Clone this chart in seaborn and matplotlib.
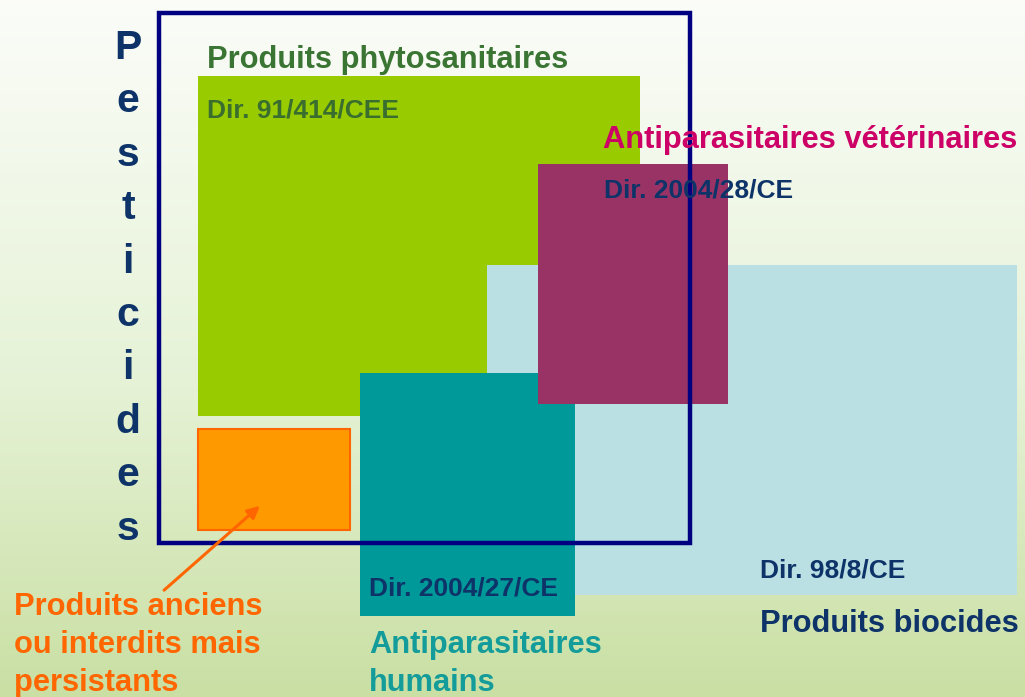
import numpy as np
import pandas as pd
import seaborn as sns
import matplotlib.pyplot as plt
from matplotlib.patches import Rectangle, FancyArrowPatch

# Boxes of the scheme (pixel space of the slide: x0, y0, x1, y1)
box_names = ['phyto', 'biocides', 'humains', 'veterinaires', 'anciens']
box_x0 = [198, 487, 360, 538, 198]
box_y0 = [76, 265, 373, 164, 429]
box_x1 = [640, 1017, 575, 728, 350]
box_y1 = [416, 595, 616, 404, 530]
box_colors = ['#99CC00', '#BBE0E3', '#009999', '#993366', '#FF9900']
box_edges = ['none', 'none', 'none', 'none', '#FF6600']

# Frame "Pesticides"
frame = [159, 13, 690, 543]

# Labels: text, x, y, colour, size
labels = [
    ('Produits phytosanitaires', 207, 60, '#3A7534', 22.2),
    ('Dir. 91/414/CEE', 207, 110, '#3A6E2E', 19),
    ('Antiparasitaires vétérinaires', 603, 140, '#CC0066', 22.2),
    ('Dir. 2004/28/CE', 604, 190, '#0D3368', 19),
    ('Dir. 98/8/CE', 760, 570, '#0D3368', 19),
    ('Produits biocides', 760, 624, '#0D3368', 22.2),
    ('Dir. 2004/27/CE', 369, 589, '#0D3368', 19),
    ('Antiparasitaires', 369, 645, '#139C9A', 22.2),
    ('humains', 369, 683, '#139C9A', 22.2),
    ('Produits anciens', 14, 607, '#FF6600', 22.2),
    ('ou interdits mais', 14, 645, '#FF6600', 22.2),
    ('persistants', 14, 683, '#FF6600', 22.2),
]

side_word = 'Pesticides'
arrow_start = (162, 592)
arrow_end = (262, 504)

W, H = 1025, 697

sns.set_theme(style='white')
plt.rcParams['font.family'] = ['Liberation Sans', 'DejaVu Sans']

fig = plt.figure(figsize=(W / 100, H / 100), dpi=100)
ax = fig.add_axes([0, 0, 1, 1])
ax.set_xlim(0, W)
ax.set_ylim(H, 0)
ax.axis('off')

# background gradient, white-ish top to pale green bottom
top = np.array([0.985, 0.99, 0.975])
mid = np.array([0.90, 0.95, 0.84])
bot = np.array([0.79, 0.875, 0.64])
t = np.linspace(0, 1, 200)[:, None]
grad = np.where(t < 0.55, top + (mid - top) * (t / 0.55),
                mid + (bot - mid) * ((t - 0.55) / 0.45))
ax.imshow(grad[:, None, :], extent=[0, W, H, 0], aspect='auto', zorder=0)

df = pd.DataFrame({'name': box_names, 'x0': box_x0, 'y0': box_y0,
                   'x1': box_x1, 'y1': box_y1,
                   'color': box_colors, 'edge': box_edges})
for i, r in df.iterrows():
    ax.add_patch(Rectangle((r.x0, r.y0), r.x1 - r.x0, r.y1 - r.y0,
                           facecolor=r.color, edgecolor=r.edge,
                           linewidth=1.5, zorder=2 + i))

ax.add_patch(Rectangle((frame[0], frame[1]), frame[2] - frame[0],
                       frame[3] - frame[1], fill=False,
                       edgecolor='#000080', linewidth=3.2, zorder=10))

for txt, x, y, c, s in labels:
    ax.text(x, y, txt, color=c, fontsize=s, fontweight='bold',
            ha='left', va='center', zorder=11)

for i, ch in enumerate(side_word):
    ax.text(128, 48 + i * 53.4, ch, color='#0D3368', fontsize=29.5,
            fontweight='bold', ha='center', va='center', zorder=11)

ax.add_patch(FancyArrowPatch(arrow_start, arrow_end, arrowstyle='-|>',
                             mutation_scale=18, color='#FF6600',
                             linewidth=2.2, zorder=12))

plt.savefig('out.png', dpi=100)
plt.close()
